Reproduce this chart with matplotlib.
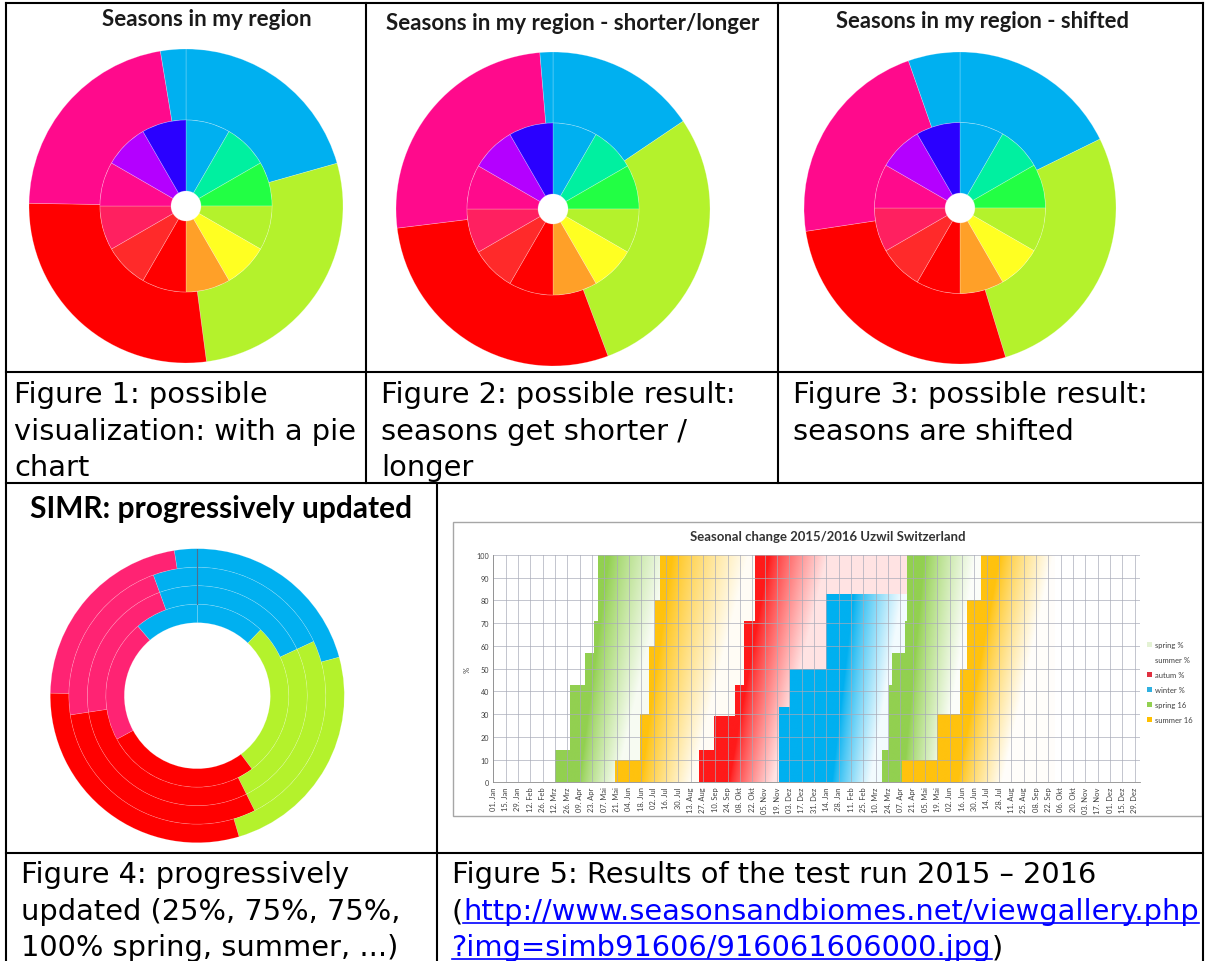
import numpy as np
import matplotlib
matplotlib.use('Agg')
import matplotlib.pyplot as plt
import matplotlib.dates as mdates
from matplotlib.colors import to_rgb
from matplotlib.lines import Line2D
from matplotlib.patches import Rectangle, Patch

W, H, DPI = 1205, 962, 100

# ---------------------------------------------------------------- data
# Pie charts (figures 1-3): outer ring = seasons (degrees of the year, clockwise from top)
season_names = ['winter', 'spring', 'summer', 'autumn', 'winter']
pie1_outer = [74.2, 98.3, 98.5, 79.6, 9.4]
pie2_outer = [56.0, 103.5, 103.5, 92.2, 4.8]
pie3_outer = [63.8, 99.2, 98.4, 79.3, 19.3]
# inner ring = 12 months
month_names = ['Jan', 'Feb', 'Mar', 'Apr', 'May', 'Jun',
               'Jul', 'Aug', 'Sep', 'Oct', 'Nov', 'Dec']
month_shares = [1, 1, 1, 1, 1, 1, 1, 1, 1, 1, 1, 1]

# Figure 4: progressively updated rings (inner -> outer)
simr_ring1 = [43.9, 99.4, 98.3, 77.9, 40.5]
simr_ring2 = [65.0, 88.5, 107.9, 78.6, 20.0]
simr_ring3 = [65.0, 88.5, 107.9, 78.6, 20.0]
simr_ring4 = [74.8, 88.7, 107.5, 80.0, 9.0]

# Figure 5: seasonal change 2015/2016 (step series: change dates, % values)
spring15_dates = ['2015-03-12', '2015-03-29', '2015-04-15', '2015-04-25', '2015-04-30', '2015-07-09']
spring15_vals = [14, 43, 57, 71, 100, 0]
summer15_dates = ['2015-05-19', '2015-06-16', '2015-06-27', '2015-07-03', '2015-07-09', '2015-10-25']
summer15_vals = [10, 30, 60, 80, 100, 0]
autumn15_dates = ['2015-08-22', '2015-09-08', '2015-10-02', '2015-10-12', '2015-10-25', '2016-04-15']
autumn15_vals = [14, 29, 43, 71, 100, 0]
winter15_dates = ['2015-11-21', '2015-12-04', '2016-01-14', '2016-04-15']
winter15_vals = [33, 50, 83, 0]
spring16_dates = ['2016-03-17', '2016-03-25', '2016-03-29', '2016-04-12', '2016-04-15', '2016-07-08']
spring16_vals = [14, 43, 57, 71, 100, 0]
summer16_dates = ['2016-04-09', '2016-05-19', '2016-06-14', '2016-06-22', '2016-07-08', '2016-09-30']
summer16_vals = [10, 30, 50, 80, 100, 0]

x_tick_labels = ['01. Jan', '15. Jan', '29. Jan', '12. Feb', '26. Feb', '12. Mrz', '26. Mrz',
                 '09. Apr', '23. Apr', '07. Mai', '21. Mai', '04. Jun', '18. Jun', '02. Jul',
                 '16. Jul', '30. Jul', '13. Aug', '27. Aug', '10. Sep', '24. Sep', '08. Okt',
                 '22. Okt', '05. Nov', '19. Nov', '03. Dez', '17. Dez', '31. Dez', '14. Jan',
                 '28. Jan', '11. Feb', '25. Feb', '10. Mrz', '24. Mrz', '07. Apr', '21. Apr',
                 '05. Mai', '19. Mai', '02. Jun', '16. Jun', '30. Jun', '14. Jul', '28. Jul',
                 '11. Aug', '25. Aug', '08. Sep', '22. Sep', '06. Okt', '20. Okt', '03. Nov',
                 '17. Nov', '01. Dez', '15. Dez', '29. Dez']
y_ticks = [0, 10, 20, 30, 40, 50, 60, 70, 80, 90, 100]
legend_labels = ['spring %', 'summer %', 'autum %', 'winter %', 'spring 16', 'summer 16']

# ---------------------------------------------------------------- styles
C_BLUE, C_LIME, C_RED, C_PINK = '#00B0F0', '#B4F22C', '#FF0000', '#FF0A8C'
C_PINK4 = '#FF2373'
outer_colors = [C_BLUE, C_LIME, C_RED, C_PINK, C_BLUE]
simr_colors = [C_BLUE, C_LIME, C_RED, C_PINK4, C_BLUE]
month_colors = ['#00B0F0', '#00F0A0', '#22FF44', '#B4F22C', '#FFFF22', '#FFA028',
                '#FF0000', '#FF2A2A', '#FF2060', '#FF0A8C', '#B400FF', '#2A00FF']

G_GREEN, G_YELLOW, G_RED, G_BLUE = '#92D050', '#FFC20E', '#FF1A1A', '#00B0F0'
legend_colors = ['#E4F2D4', '#FFFFFF', '#E03040', '#30B0E0', '#92D050', '#FFC000']

fig = plt.figure(figsize=(W / DPI, H / DPI), dpi=DPI)
fig.patch.set_facecolor('white')
renderer = fig.canvas.get_renderer()


def px_rect(x0, y0, x1, y1):
    return [x0 / W, 1 - y1 / H, (x1 - x0) / W, (y1 - y0) / H]


def fit_text(cx, cy, s, target_w, **kw):
    t = fig.text(cx / W, 1 - cy / H, s, fontsize=10, ha='center', va='center', **kw)
    w = t.get_window_extent(renderer).width
    t.set_fontsize(10 * target_w / w)
    return t


# ---------------------------------------------------------------- figures 1-3
R_IN = 86 / 157
R_HOLE = 15 / 157


def draw_pie(cx, cy, r, outer_vals):
    ax = fig.add_axes(px_rect(cx - r, cy - r, cx + r, cy + r))
    ax.pie(outer_vals, colors=outer_colors, radius=1.0, startangle=90, counterclock=False,
           wedgeprops=dict(width=1 - R_IN, edgecolor=(1, 1, 1, 0.3), linewidth=0.5))
    ax.pie(month_shares, colors=month_colors, radius=R_IN, startangle=90, counterclock=False,
           wedgeprops=dict(width=R_IN - R_HOLE, edgecolor=(1, 1, 1, 0.3), linewidth=0.5))
    ax.set_xlim(-1, 1)
    ax.set_ylim(-1, 1)
    ax.set_aspect('equal')
    ax.axis('off')


draw_pie(186, 207, 157, pie1_outer)
draw_pie(553, 210, 157, pie2_outer)
draw_pie(960, 209, 156, pie3_outer)

title_kw = dict(family='Lato', fontweight='bold', color='#1a1a1a')
fit_text(207, 20, 'Seasons in my region', 210, **title_kw)
fit_text(573, 23, 'Seasons in my region - shorter/longer', 373, **title_kw)
fit_text(982, 22, 'Seasons in my region - shifted', 293, **title_kw)

# ---------------------------------------------------------------- figure 4
R4_HOLE = 73 / 147
RING_W = (1 - R4_HOLE) / 4
cx4, cy4, r4 = 197.3, 696.7, 147
ax4 = fig.add_axes(px_rect(cx4 - r4, cy4 - r4, cx4 + r4, cy4 + r4))
for i, vals in enumerate([simr_ring1, simr_ring2, simr_ring3, simr_ring4]):
    ax4.pie(vals, colors=simr_colors, radius=R4_HOLE + (i + 1) * RING_W, startangle=90,
            counterclock=False,
            wedgeprops=dict(width=RING_W, edgecolor=(1, 1, 1, 0.22), linewidth=0.45))
ax4.plot([0, 0], [R4_HOLE + RING_W, 1.0], color='#4f6f8f', lw=0.8)
ax4.set_xlim(-1, 1)
ax4.set_ylim(-1, 1)
ax4.set_aspect('equal')
ax4.axis('off')
fit_text(221, 509, 'SIMR: progressively updated', 384, family='Lato', fontweight='bold',
         color='black')

# ---------------------------------------------------------------- figure 5
fig.add_artist(Rectangle((452.7 / W, 1 - 817 / H), (1201.7 - 452.7) / W, (817 - 522.7) / H,
                         transform=fig.transFigure, facecolor='none', edgecolor='#a6a6a6',
                         lw=1.0))
ax5 = fig.add_axes(px_rect(493.3, 556, 1140, 783.3))
base = mdates.date2num(np.datetime64('2015-01-01'))
xmin, xmax = base, base + 734
xg = np.linspace(xmin, xmax, 1400)
yg = np.linspace(0, 100, 300)
XG, YG = np.meshgrid(xg, yg)


def gradient_img(color, fade):
    fs0, fs1, fe0, fe1, mmax = fade
    fs = base + fs0 + (fs1 - fs0) * YG / 100
    fe = base + fe0 + (fe1 - fe0) * YG / 100
    t = np.clip((XG - fs) / (fe - fs), 0, 1)
    t = (t ** 0.8) * mmax
    rgb = np.array(to_rgb(color))
    return rgb[None, None, :] * (1 - t[..., None]) + t[..., None]


series = [
    (spring15_dates, spring15_vals, G_GREEN, (98, 132, 140, 200, 0.93)),
    (summer15_dates, summer15_vals, G_YELLOW, (168, 204, 225, 290, 0.96)),
    (autumn15_dates, autumn15_vals, G_RED, (268, 314, 318, 380, 0.88)),
    (winter15_dates, winter15_vals, G_BLUE, (385, 415, 428, 472, 0.95)),
    (spring16_dates, spring16_vals, G_GREEN, (466, 490, 508, 548, 0.97)),
    (summer16_dates, summer16_vals, G_YELLOW, (528, 576, 578, 636, 0.98)),
]
for i, (d, v, c, fade) in enumerate(series):
    x = mdates.date2num(np.array(d, dtype='datetime64[D]'))
    z = 1 + 0.1 * i
    poly = ax5.fill_between(x, v, 0, step='post', facecolor='none', edgecolor='none', zorder=z)
    im = ax5.imshow(gradient_img(c, fade), extent=[xmin, xmax, 0, 100], origin='lower',
                    aspect='auto', interpolation='bilinear', zorder=z)
    im.set_clip_path(poly.get_paths()[0], ax5.transData)

tick_pos = base + 14 * np.arange(len(x_tick_labels))
ax5.set_xlim(xmin, xmax)
ax5.set_ylim(0, 100)
ax5.set_xticks(tick_pos)
ax5.set_xticklabels(x_tick_labels, rotation=90, fontsize=5.4, family='Lato', color='#404040')
ax5.set_yticks(y_ticks)
ax5.set_yticklabels([str(v) for v in y_ticks], fontsize=5.2, family='Lato', color='#404040')
ax5.tick_params(length=0, pad=3)
ax5.grid(True, color='#a8aab8', lw=0.6, alpha=0.8)
ax5.set_axisbelow(False)
for s in ['top', 'right']:
    ax5.spines[s].set_visible(False)
for s in ['left', 'bottom']:
    ax5.spines[s].set_color('#8c8c8c')
    ax5.spines[s].set_linewidth(0.6)
    ax5.spines[s].set_zorder(3)
ax5.set_ylabel('%', fontsize=5.5, family='Lato', color='#404040', labelpad=4)
fit_text(827.5, 537, 'Seasonal change 2015/2016 Uzwil Switzerland', 275, family='Lato',
         fontweight='bold', color='#333333')
handles = [Patch(facecolor=c, edgecolor='none') for c in legend_colors]
fig.legend(handles, legend_labels, loc='upper left', bbox_to_anchor=(1147 / W, 1 - 642 / H),
           frameon=False, prop={'family': 'Lato', 'size': 5.5}, handlelength=0.6,
           handleheight=0.6, handletextpad=0.4, labelspacing=1.05, borderaxespad=0,
           borderpad=0, labelcolor='#404040')

# ---------------------------------------------------------------- captions
CAP_FS = 20.8
cap_kw = dict(fontsize=CAP_FS, family='DejaVu Sans', va='baseline', ha='left', color='black')
row1 = [403.3, 440, 476.5]
row2 = [883, 920.5, 956.5]


def caption(x, baselines, lines):
    for yb, s in zip(baselines, lines):
        fig.text(x / W, 1 - yb / H, s, **cap_kw)


caption(14, row1, ['Figure 1: possible', 'visualization: with a pie', 'chart'])
caption(381, row1, ['Figure 2: possible result:', 'seasons get shorter /', 'longer'])
caption(793, row1, ['Figure 3: possible result:', 'seasons are shifted'])
caption(21, row2, ['Figure 4: progressively', 'updated (25%, 75%, 75%,',
                   '100% spring, summer, ...)'])
caption(452, row2[:1], ['Figure 5: Results of the test run 2015 \u2013 2016'])

LINK = '#0000FF'


def underline(t, yb):
    bb = t.get_window_extent(renderer)
    yy = 1 - (yb + 3.5) / H
    fig.add_artist(Line2D([bb.x0 / W, bb.x1 / W], [yy, yy], transform=fig.transFigure,
                          color=LINK, lw=1.2))


p_open = fig.text(452 / W, 1 - row2[1] / H, '(', **cap_kw)
xo = p_open.get_window_extent(renderer).x1
url1 = fig.text(xo / W, 1 - row2[1] / H, 'http://www.seasonsandbiomes.net/viewgallery.php',
                **{**cap_kw, 'color': LINK})
underline(url1, row2[1])
url2 = fig.text(452 / W, 1 - row2[2] / H, '?img=simb91606/916061606000.jpg',
                **{**cap_kw, 'color': LINK})
underline(url2, row2[2])
xc = url2.get_window_extent(renderer).x1
fig.text(xc / W, 1 - row2[2] / H, ')', **cap_kw)

# ---------------------------------------------------------------- table borders
def hline(y, x0, x1):
    fig.add_artist(Line2D([x0 / W, x1 / W], [1 - y / H, 1 - y / H], transform=fig.transFigure,
                          color='black', lw=1.5, zorder=10))


def vline(x, y0, y1):
    fig.add_artist(Line2D([x / W, x / W], [1 - y0 / H, 1 - y1 / H], transform=fig.transFigure,
                          color='black', lw=1.5, zorder=10))


for y in [4, 372.5, 483.5, 854]:
    hline(y, 6, 1203)
vline(6, 4, 962)
vline(1203, 4, 962)
vline(366, 4, 483.5)
vline(778, 4, 483.5)
vline(437, 483.5, 962)

fig.savefig('out.png', dpi=DPI, facecolor='white')
